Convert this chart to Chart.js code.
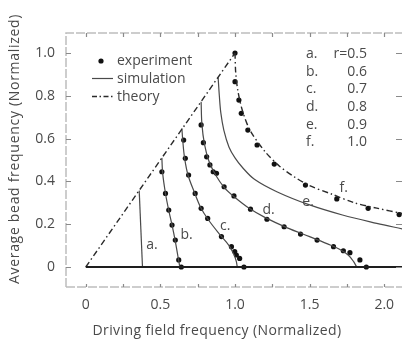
<!DOCTYPE html>
<html>
<head>
<meta charset="utf-8">
<script src="https://cdn.jsdelivr.net/npm/chart.js@4.4.1/dist/chart.umd.min.js"></script>
<style>
  html, body { margin: 0; padding: 0; background: #fff; overflow: hidden; }
  #wrap { width: 406px; height: 341px; }
</style>
</head>
<body>
<div id="wrap"><canvas id="c" width="406" height="341"></canvas></div>
<script>
// values (x = driving freq, y = bead freq, both normalized)
const theoryRamp = [[0, 0], [1, 1]];
const theoryF = [[1, 1], [1.005, 0.905], [1.02, 0.82], [1.05, 0.73], [1.1, 0.64], [1.2, 0.54],
  [1.3, 0.47], [1.4, 0.42], [1.5, 0.38], [1.65, 0.34], [1.8, 0.30], [1.95, 0.275], [2.12, 0.25]];
const baseline = [[0, 0], [2.12, 0]];

const simA = [[0.358, 0.357], [0.38, 0]];
const simB = [[0.51, 0.51], [0.515, 0.44], [0.535, 0.34], [0.556, 0.265], [0.58, 0.19], [0.60, 0.12], [0.62, 0.04], [0.63, 0]];
const simC = [[0.644, 0.648], [0.65, 0.59], [0.662, 0.51], [0.685, 0.43], [0.73, 0.345], [0.77, 0.278],
  [0.82, 0.222], [0.9, 0.15], [0.96, 0.1], [0.995, 0.055], [1.009, 0.025], [1.015, 0]];
const simD = [[0.773, 0.772], [0.778, 0.67], [0.795, 0.575], [0.825, 0.495], [0.87, 0.43], [0.93, 0.37],
  [1.0, 0.325], [1.1, 0.272], [1.2, 0.232], [1.35, 0.183], [1.5, 0.142], [1.62, 0.108], [1.7, 0.083],
  [1.76, 0.055], [1.795, 0.025], [1.815, 0]];
const simE = [[0.887, 0.885], [0.895, 0.8], [0.905, 0.72], [0.925, 0.64], [0.96, 0.56], [1.0, 0.51],
  [1.05, 0.465], [1.13, 0.41], [1.28, 0.352], [1.5, 0.29], [1.72, 0.243], [1.95, 0.204], [2.12, 0.178]];

const expB = [[0.51, 0.445], [0.534, 0.344], [0.556, 0.266], [0.578, 0.196], [0.6, 0.126], [0.623, 0.033], [0.64, 0]];
const expC = [[0.656, 0.593], [0.667, 0.508], [0.689, 0.43], [0.733, 0.344], [0.773, 0.274], [0.817, 0.227],
  [0.909, 0.142], [0.976, 0.095], [0.998, 0.072], [1.009, 0.056], [1.031, 0.04], [1.06, 0]];
const expD = [[0.773, 0.664], [0.788, 0.581], [0.81, 0.515], [0.832, 0.477], [0.854, 0.445], [0.876, 0.438],
  [0.927, 0.375], [0.993, 0.332], [1.104, 0.27], [1.214, 0.223], [1.329, 0.188], [1.439, 0.154],
  [1.55, 0.126], [1.66, 0.095], [1.726, 0.076], [1.77, 0.067], [1.837, 0.033], [1.88, 0]];
const expF = [[1.0, 1.0], [1.0, 0.866], [1.026, 0.78], [1.042, 0.718], [1.086, 0.64], [1.148, 0.57],
  [1.263, 0.481], [1.472, 0.383], [1.682, 0.318], [1.892, 0.274], [2.10, 0.245]];

const xTicks = [0, 0.5, 1, 1.5, 2];
const xTickLabels = ['0', '0.5', '1.0', '1.5', '2.0'];
const yTicks = [0, 0.2, 0.4, 0.6, 0.8, 1.0];
const yTickLabels = ['0', '0.2', '0.4', '0.6', '0.8', '1.0'];
const minorXTicks = [0, 0.25, 0.5, 0.75, 1, 1.25, 1.5, 1.75, 2];

const curveNames = ['a.', 'b.', 'c.', 'd.', 'e.', 'f.'];
const curveR = ['r=0.5', '0.6', '0.7', '0.8', '0.9', '1.0'];
const curveLabelPos = [[0.444, 0.103], [0.675, 0.15], [0.934, 0.192], [1.225, 0.266], [1.49, 0.304], [1.728, 0.369]];

const xTitle = 'Driving field frequency (Normalized)';
const yTitle = 'Average bead frequency (Normalized)';

const INK = '#2a2a2a';
const TXT = '#4a4a4a';
const FRAME = '#bdbdbd';
const FONT = '"Open Sans", "DejaVu Sans", sans-serif';
const DASHDOT = [6, 3, 1.5, 3];

function pts(arr) {
  return arr.map(function(p) { return { x: p[0], y: p[1] }; });
}

function lineSet(arr, opts) {
  return Object.assign({
    data: pts(arr),
    showLine: true,
    pointRadius: 0,
    borderColor: '#4a4a4a',
    borderWidth: 1.2,
    tension: 0.35,
    fill: false
  }, opts || {});
}

function dotSet(arr) {
  return {
    data: pts(arr),
    showLine: false,
    pointRadius: 2.6,
    pointBackgroundColor: '#111',
    pointBorderWidth: 0
  };
}

const decor = {
  id: 'decor',
  afterDraw: function(chart) {
    const ctx = chart.ctx;
    const xs = chart.scales.x, ys = chart.scales.y;
    const a = chart.chartArea;
    ctx.save();

    // frame (left, top, bottom) in a scanned dashed gray
    ctx.strokeStyle = FRAME;
    ctx.lineWidth = 1.5;
    ctx.setLineDash([9, 2]);
    ctx.beginPath();
    ctx.moveTo(a.left, a.bottom); ctx.lineTo(a.left, a.top); ctx.lineTo(a.right, a.top);
    ctx.moveTo(a.left, a.bottom); ctx.lineTo(a.right, a.bottom);
    ctx.stroke();
    ctx.setLineDash([]);

    // ticks
    ctx.strokeStyle = '#8a8a8a';
    ctx.lineWidth = 1.2;
    ctx.beginPath();
    yTicks.forEach(function(v) {
      const py = Math.round(ys.getPixelForValue(v)) + 0.5;
      ctx.moveTo(a.left, py); ctx.lineTo(a.left + 5, py);
      ctx.moveTo(a.right, py); ctx.lineTo(a.right - 6, py);
    });
    minorXTicks.forEach(function(v) {
      const px = Math.round(xs.getPixelForValue(v)) + 0.5;
      ctx.moveTo(px, a.top); ctx.lineTo(px, a.top + 4);
      ctx.moveTo(px, a.bottom); ctx.lineTo(px, a.bottom - 3);
    });
    ctx.stroke();

    // tick labels
    ctx.fillStyle = TXT;
    ctx.font = '14px ' + FONT;
    ctx.textAlign = 'right';
    ctx.textBaseline = 'middle';
    yTicks.forEach(function(v, i) {
      ctx.fillText(yTickLabels[i], 55, ys.getPixelForValue(v));
    });
    ctx.textAlign = 'center';
    xTicks.forEach(function(v, i) {
      ctx.fillText(xTickLabels[i], xs.getPixelForValue(v), 305);
    });

    // axis titles
    ctx.save();
    ctx.letterSpacing = '0.4px';
    ctx.fillText(xTitle, 217, 331);
    ctx.translate(15, 149);
    ctx.rotate(-Math.PI / 2);
    ctx.letterSpacing = '0.7px';
    ctx.fillText(yTitle, 0, 0);
    ctx.restore();

    // legend
    ctx.textAlign = 'left';
    ctx.fillStyle = '#111';
    ctx.beginPath(); ctx.arc(101, 61, 2.6, 0, Math.PI * 2); ctx.fill();
    ctx.strokeStyle = '#4a4a4a';
    ctx.lineWidth = 1.2;
    ctx.beginPath(); ctx.moveTo(92, 78.5); ctx.lineTo(113, 78.5); ctx.stroke();
    ctx.strokeStyle = INK;
    ctx.lineWidth = 1.4;
    ctx.setLineDash([5, 2.5, 1.5, 2.5]);
    ctx.beginPath(); ctx.moveTo(92, 96.5); ctx.lineTo(113, 96.5); ctx.stroke();
    ctx.setLineDash([]);
    ctx.fillStyle = TXT;
    ctx.fillText('experiment', 117, 61);
    ctx.fillText('simulation', 117, 79);
    ctx.fillText('theory', 117, 97);

    // r list
    curveNames.forEach(function(n, i) {
      const py = 54 + i * 17.7;
      ctx.textAlign = 'left';
      ctx.fillText(n, 306, py);
      ctx.textAlign = 'right';
      ctx.fillText(curveR[i], 367, py);
    });

    // curve labels
    ctx.textAlign = 'center';
    curveNames.forEach(function(n, i) {
      const p = curveLabelPos[i];
      ctx.fillText(n, xs.getPixelForValue(p[0]), ys.getPixelForValue(p[1]));
    });

    ctx.restore();
  }
};

new Chart(document.getElementById('c'), {
  type: 'scatter',
  data: {
    datasets: [
      lineSet(baseline, { borderColor: '#1e1e1e', borderWidth: 2, tension: 0 }),
      lineSet(theoryRamp, { borderColor: INK, borderWidth: 1.4, borderDash: DASHDOT, tension: 0 }),
      lineSet(theoryF, { borderColor: INK, borderWidth: 1.4, borderDash: DASHDOT, tension: 0.3 }),
      lineSet(simA, { tension: 0 }),
      lineSet(simB),
      lineSet(simC),
      lineSet(simD),
      lineSet(simE),
      dotSet(expB),
      dotSet(expC),
      dotSet(expD),
      dotSet(expF)
    ]
  },
  options: {
    responsive: false,
    animation: false,
    layout: { padding: { left: 66, top: 33, right: 0, bottom: 54 } },
    plugins: { legend: { display: false }, tooltip: { enabled: false } },
    scales: {
      x: { type: 'linear', display: false, min: -0.1325, max: 2.119 },
      y: { type: 'linear', display: false, min: -0.0935, max: 1.0935 }
    }
  },
  plugins: [decor]
});
</script>
</body>
</html>
